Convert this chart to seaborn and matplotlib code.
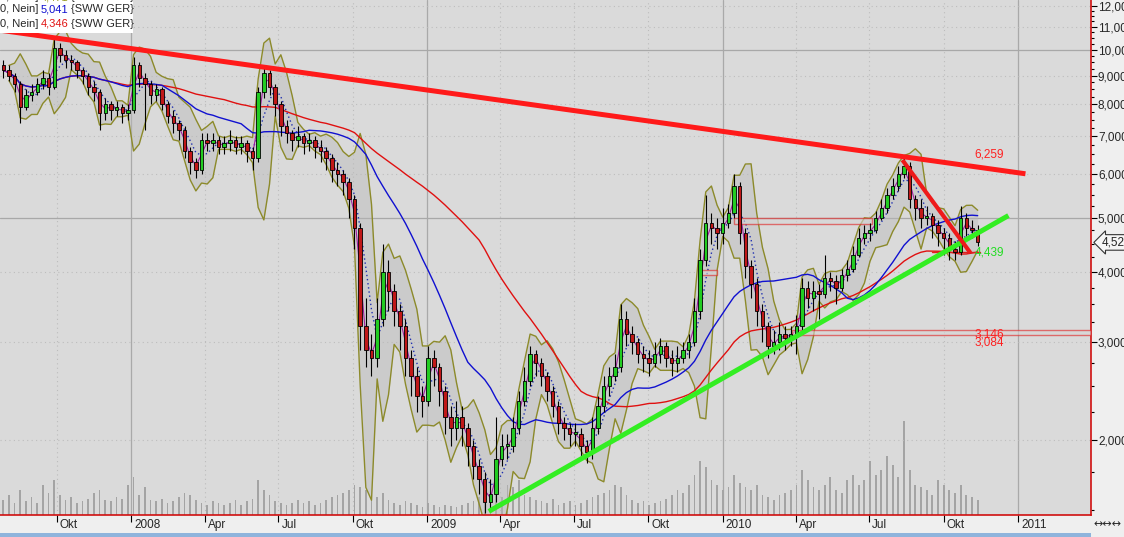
import matplotlib
matplotlib.use("Agg")
import numpy as np
import pandas as pd
import matplotlib.pyplot as plt
import matplotlib.dates as mdates
import matplotlib.transforms as mtrans
from matplotlib.patches import Rectangle
from matplotlib.ticker import FixedLocator, NullFormatter
import seaborn as sns

# weekly prices (SWW GER), first bar week of 2007-07-27
first_open = 9.4
closes = [
    9.2, 9.0, 8.7, 7.9, 8.3, 8.4, 8.7, 8.9, 8.6, 10.1,
    9.8, 9.6, 9.5, 9.2, 9.0, 8.6, 8.4, 7.7, 8.0, 7.8,
    7.9, 7.7, 7.8, 9.4, 8.9, 8.7, 8.3, 8.5, 8.0, 7.6,
    7.4, 7.2, 6.6, 6.3, 6.1, 6.9, 6.8, 6.9, 6.7, 6.8,
    6.9, 6.7, 6.8, 6.6, 6.4, 8.4, 9.1, 8.6, 8.0, 7.3,
    7.1, 6.9, 7.0, 6.8, 6.9, 6.7, 6.6, 6.4, 6.1, 6.0,
    5.8, 5.4, 4.8, 3.2, 2.9, 2.8, 3.3, 4.0, 3.7, 3.4,
    3.2, 2.8, 2.6, 2.4, 2.35, 2.8, 2.7, 2.45, 2.2, 2.1,
    2.2, 2.1, 1.95, 1.8, 1.7, 1.55, 1.6, 1.85, 1.95, 1.95,
    2.1, 2.35, 2.55, 2.85, 2.75, 2.6, 2.45, 2.3, 2.15, 2.1,
    2.05, 2.05, 1.95, 1.9, 2.1, 2.3, 2.5, 2.6, 2.7, 3.3,
    3.1, 3.0, 2.85, 2.8, 2.75, 2.85, 2.95, 2.8, 2.75, 2.8,
    2.9, 3.0, 3.4, 4.2, 4.9, 4.8, 4.7, 4.9, 5.1, 5.7,
    4.7, 4.1, 3.8, 3.4, 3.2, 2.95, 3.0, 3.1, 3.05, 3.1,
    3.2, 3.75, 3.6, 3.7, 3.65, 3.9, 3.85, 3.75, 3.95, 4.05,
    4.3, 4.6, 4.7, 4.75, 5.0, 5.2, 5.5, 5.7, 6.0, 6.2,
    5.4, 5.2, 5.0, 5.05, 4.85, 4.7, 4.6, 4.4, 4.35, 5.0,
    4.8, 4.75, 4.52,
]
highs = [
    9.6, 9.4, 9.1, 8.8, 8.5, 8.7, 8.9, 9.2, 9.1, 10.5,
    10.3, 10.0, 9.8, 9.6, 9.3, 9.1, 8.8, 8.5, 8.2, 8.1,
    8.1, 8.0, 8.0, 9.7, 9.5, 9.1, 8.8, 8.7, 8.6, 8.1,
    7.8, 7.5, 7.3, 6.7, 6.4, 7.1, 7.1, 7.1, 7.0, 7.0,
    7.2, 7.0, 7.0, 6.9, 6.7, 8.6, 9.4, 9.2, 8.7, 8.1,
    7.5, 7.2, 7.3, 7.1, 7.1, 7.0, 6.9, 6.7, 6.5, 6.3,
    6.1, 5.9, 5.5, 4.9, 3.6, 3.1, 3.6, 4.5, 4.2, 3.8,
    3.5, 3.3, 2.9, 2.7, 2.5, 2.95, 2.9, 2.75, 2.5, 2.3,
    2.35, 2.3, 2.15, 2.0, 1.85, 1.75, 1.7, 2.2, 2.05, 2.05,
    2.2, 2.45, 2.7, 2.95, 2.9, 2.8, 2.65, 2.5, 2.35, 2.2,
    2.15, 2.15, 2.1, 2.0, 2.2, 2.4, 2.6, 2.7, 2.85, 3.5,
    3.4, 3.2, 3.05, 2.95, 2.9, 3.0, 3.05, 3.0, 2.9, 2.95,
    3.0, 3.1, 3.6, 4.4, 5.5, 5.1, 5.0, 5.2, 5.3, 6.0,
    5.8, 4.8, 4.2, 3.9, 3.5, 3.25, 3.15, 3.25, 3.2, 3.2,
    3.35, 3.9, 3.85, 3.85, 3.8, 4.3, 4.0, 3.95, 4.05, 4.2,
    4.45, 4.8, 4.85, 4.9, 5.15, 5.4, 5.65, 5.9, 6.2, 6.4,
    6.3, 5.5, 5.4, 5.25, 5.1, 4.95, 4.8, 4.7, 4.55, 5.25,
    5.1, 4.95, 4.85,
]
lows = [
    8.9, 8.8, 8.4, 7.4, 7.8, 8.1, 8.3, 8.5, 8.3, 8.5,
    9.5, 9.3, 9.2, 8.9, 8.7, 8.3, 8.1, 7.2, 7.5, 7.5,
    7.6, 7.4, 7.5, 7.7, 8.6, 7.2, 8.0, 8.1, 7.8, 7.4,
    7.1, 6.9, 6.4, 6.0, 5.9, 6.0, 6.6, 6.6, 6.5, 6.5,
    6.6, 6.5, 6.5, 6.3, 6.1, 6.3, 8.2, 8.3, 7.6, 7.0,
    6.8, 6.6, 6.7, 6.5, 6.6, 6.4, 6.3, 6.1, 5.8, 5.7,
    5.5, 5.0, 4.4, 2.9, 2.7, 2.6, 2.7, 3.2, 3.4, 3.2,
    2.9, 2.6, 2.4, 2.25, 2.2, 2.3, 2.5, 2.3, 2.05, 1.95,
    2.0, 1.95, 1.8, 1.7, 1.6, 1.48, 1.5, 1.55, 1.8, 1.85,
    1.9, 2.05, 2.3, 2.5, 2.6, 2.5, 2.35, 2.2, 2.05, 2.0,
    1.95, 1.95, 1.85, 1.82, 1.85, 2.05, 2.25, 2.4, 2.55, 2.65,
    2.95, 2.85, 2.75, 2.65, 2.6, 2.7, 2.75, 2.7, 2.6, 2.65,
    2.75, 2.8, 2.95, 3.3, 4.1, 4.5, 4.4, 4.5, 4.8, 5.0,
    4.5, 3.9, 3.6, 3.2, 3.0, 2.8, 2.85, 2.9, 2.9, 2.95,
    2.85, 3.15, 3.45, 3.4, 3.3, 3.6, 3.7, 3.5, 3.7, 3.85,
    4.0, 4.25, 4.5, 4.55, 4.7, 4.95, 5.1, 5.4, 5.6, 5.9,
    5.2, 4.95, 4.8, 4.85, 4.6, 4.45, 4.3, 4.2, 4.2, 4.3,
    4.65, 4.6, 4.45,
]
volumes = [
    15, 20, 12, 25, 14, 18, 12, 30, 22, 35,
    20, 15, 18, 12, 14, 16, 22, 25, 15, 14,
    18, 16, 30, 38, 20, 28, 15, 14, 16, 12,
    14, 18, 22, 20, 15, 12, 10, 14, 12, 10,
    12, 15, 10, 14, 16, 35, 25, 20, 14, 12,
    10, 12, 15, 12, 14, 10, 12, 15, 18, 20,
    22, 25, 30, 28, 25, 20, 18, 22, 15, 12,
    10, 14, 12, 10, 8, 12, 10, 8, 10, 9,
    8, 10, 12, 14, 18, 20, 25, 22, 18, 30,
    28, 35, 20, 18, 15, 14, 12, 16, 10, 12,
    14, 10, 12, 15, 18, 20, 22, 25, 30, 28,
    20, 15, 12, 14, 10, 12, 14, 16, 20, 25,
    22, 30, 40, 55, 48, 35, 30, 25, 28, 40,
    32, 28, 25, 30, 20, 18, 15, 20, 22, 25,
    30, 45, 35, 28, 25, 30, 38, 25, 22, 35,
    40, 30, 35, 55, 40, 45, 60, 50, 38, 95,
    45, 30, 28, 25, 20, 35, 30, 25, 22, 30,
    20, 18, 15,
]

# drawn trend lines and zones (date, price)
resistance_line = (("2007-07-23", 10.85), ("2011-01-10", 6.0))
support_line = (("2009-03-18", 1.49), ("2010-12-20", 5.05))
short_down_line = (("2010-08-11", 6.35), ("2010-11-03", 4.33))
zones = [  # start, end, low, high
    ("2010-01-15", "2010-07-05", 4.87, 5.0),
    ("2009-12-05", "2009-12-25", 3.95, 4.03),
    ("2010-03-27", "2011-04-01", 3.084, 3.146),
]
level_4439 = ("2010-09-17", "2010-11-15", 4.35)

qtr_ticks = pd.date_range("2007-10-01", "2011-01-01", freq="QS")
month_de = {1: None, 4: "Apr", 7: "Jul", 10: "Okt"}
qtr_labels = [str(d.year) if d.month == 1 else month_de[d.month] for d in qtr_ticks]

dates = pd.date_range("2007-07-27", periods=len(closes), freq="W-FRI")
df = pd.DataFrame({"date": dates, "close": closes, "high": highs,
                   "low": lows, "volume": volumes})
df["open"] = [first_open] + closes[:-1]
df["ma_fast"] = df["close"].rolling(2, min_periods=1).mean()
df["bb_mid"] = df["close"].rolling(4, min_periods=1).mean()
bb_std = df["close"].rolling(4, min_periods=2).std()
df["bb_up"] = df["bb_mid"] + 2 * bb_std
df["bb_lo"] = (df["bb_mid"] - 2 * bb_std).clip(lower=1.0)
df["ma_blue"] = df["close"].rolling(20, min_periods=1).mean()
df["ma_red"] = df["close"].rolling(40, min_periods=1).mean()

sns.set_theme(style="white")
plt.rcParams["font.family"] = ["Liberation Sans", "DejaVu Sans"]

W, H = 1124, 537
fig = plt.figure(figsize=(W / 100, H / 100), dpi=100, facecolor="#efefef")
rect = [0, 22 / H, 1091 / W, 515 / H]
axv = fig.add_axes(rect, facecolor="#dadada")
ax = fig.add_axes(rect, sharex=axv)
ax.patch.set_alpha(0)

# volume in the background
axv.bar(df["date"], df["volume"], width=2.2, color="#a4a4a4", linewidth=0)
axv.set_ylim(0, 520)
axv.set_yticks([])
axv.tick_params(axis="x", bottom=False, labelbottom=False)
for s in axv.spines.values():
    s.set_visible(False)
for d in qtr_ticks:
    if d.month == 1:
        axv.axvline(d, color="#a9a9a9", lw=0.9, zorder=0)
    else:
        axv.axvline(d, color="#bcbcbc", lw=0.8, ls=(0, (1, 3)), zorder=0)

ax.set_yscale("log")
ax.set_ylim(1.468, 12.29)
ax.set_xlim(pd.Timestamp("2007-07-23"), pd.Timestamp("2011-04-01"))
for lvl in range(2, 13):
    if lvl in (5, 10):
        ax.axhline(lvl, color="#a8a8a8", lw=0.9, zorder=0)
    else:
        ax.axhline(lvl, color="#bdbdbd", lw=0.8, ls=(0, (1, 3)), zorder=0)

# bollinger band + averages
ax.fill_between(df["date"], df["bb_lo"], df["bb_up"], color="#b9b9b9",
                alpha=0.45, linewidth=0, zorder=1)
sns.lineplot(data=df, x="date", y="bb_up", ax=ax, color="#8c8a2a", lw=1.0, zorder=2)
sns.lineplot(data=df, x="date", y="bb_lo", ax=ax, color="#8c8a2a", lw=1.0, zorder=2)
sns.lineplot(data=df, x="date", y="ma_red", ax=ax, color="#e01010", lw=1.0, zorder=3)
sns.lineplot(data=df, x="date", y="ma_blue", ax=ax, color="#1010d0", lw=1.0, zorder=3)
sns.lineplot(data=df, x="date", y="bb_mid", ax=ax, color="#2030b0", lw=1.0,
             ls=(0, (1, 2)), zorder=3)
sns.lineplot(data=df, x="date", y="ma_fast", ax=ax, color="#a020a0", lw=0.8, zorder=3)

# candles
up = df["close"] >= df["open"]
ax.vlines(df["date"], df["low"], df["high"], color="black", lw=0.8, zorder=4)
body_lo = np.minimum(df["open"], df["close"])
body_h = np.abs(df["close"] - df["open"]).clip(lower=0.02)
ax.bar(df["date"], body_h, bottom=body_lo, width=4.2,
       color=np.where(up, "#22cc22", "#c01818"), edgecolor="black",
       linewidth=0.6, zorder=5)

# zones and trend lines
for start, end, lo, hi in zones:
    x0 = mdates.date2num(pd.Timestamp(start))
    x1 = mdates.date2num(pd.Timestamp(end))
    ax.add_patch(Rectangle((x0, lo), x1 - x0, hi - lo, fc="#d6d6d6", alpha=0.6,
                           ec="#e02020", lw=1.0, zorder=3))
ax.plot(pd.to_datetime(list(level_4439[:2])), [level_4439[2]] * 2,
        color="#e02020", lw=1.0, zorder=3)
for line, col, lw in [(resistance_line, "#ff1a1a", 3.6),
                      (support_line, "#33ee22", 3.6),
                      (short_down_line, "#ee1a1a", 3.0)]:
    (d0, p0), (d1, p1) = line
    ax.plot(pd.to_datetime([d0, d1]), [p0, p1], color=col, lw=lw,
            solid_capstyle="butt", zorder=6)

lbl_x = pd.Timestamp("2010-11-08")
ax.text(lbl_x, 6.33, "6,259", color="#ff2020", fontsize=8.5, va="bottom", zorder=7)
ax.text(lbl_x, 4.33, "4,439", color="#22dd22", fontsize=8.5, va="center", zorder=7)
ax.text(lbl_x, 3.17, "3,146", color="#ff2020", fontsize=8.5, va="top", zorder=7)
ax.text(lbl_x, 3.07, "3,084", color="#ff2020", fontsize=8.5, va="top", zorder=7)

# axes styling
for name, s in ax.spines.items():
    s.set_visible(name in ("right", "bottom"))
    s.set_color("#d01010")
    s.set_linewidth(1.2)
ax.yaxis.tick_right()
ax.yaxis.set_major_locator(FixedLocator(list(range(2, 13))))
ax.yaxis.set_major_formatter(plt.FuncFormatter(lambda v, p: f"{v:.3f}".replace(".", ",")))
minor = [v / 4 for v in range(6, 49) if v % 4]
ax.yaxis.set_minor_locator(FixedLocator(minor))
ax.yaxis.set_minor_formatter(NullFormatter())
ax.tick_params(axis="y", which="major", length=4, width=0.8, color="black",
               labelsize=8.5, pad=1, right=True)
ax.tick_params(axis="y", which="minor", length=2, width=0.8, color="black", right=True)
ax.set_xticks(qtr_ticks)
ax.set_xticklabels(qtr_labels, ha="left")
ax.tick_params(axis="x", length=5, width=0.8, color="black", labelsize=8.5,
               pad=-2, bottom=True)
shift = mtrans.ScaledTranslation(3 / 100, 0, fig.dpi_scale_trans)
for t in ax.get_xticklabels():
    t.set_transform(t.get_transform() + shift)
ax.set_xlabel("")
ax.set_ylabel("")

# price tag on the axis
ax.annotate("4,52", xy=(1.0, 4.52), xycoords=("axes fraction", "data"),
            xytext=(8, 0), textcoords="offset points", ha="left", va="center",
            fontsize=8.5, annotation_clip=False,
            bbox=dict(boxstyle="larrow,pad=0.15", fc="#f6f6f6", ec="#333333", lw=0.8))

# legend box top-left
fig.add_artist(Rectangle((0, 1 - 33 / H), 133 / W, 33 / H, transform=fig.transFigure,
                         fc="white", ec="none", zorder=10))
rows = [(-3, "4,471", "#9a9a20"), (9, "5,041", "#1010d0"), (24, "4,346", "#e01010")]
for y, val, col in rows:
    yf = 1 - y / H
    fig.text(0, yf, "0, Nein]", fontsize=8, va="center", zorder=11)
    fig.text(41 / W, yf, val, fontsize=8, va="center", color=col, zorder=11)
    fig.text(71 / W, yf, "{SWW GER}", fontsize=8, va="center", zorder=11)

fig.text(1093 / W, 1 - 524 / H, "↔↔↔", fontsize=8, va="center",
         family=["DejaVu Sans"])
fig.add_artist(Rectangle((0, 0), 1091 / W, 4 / H, transform=fig.transFigure,
                         fc="#8fb4dc", ec="none"))

fig.savefig("out.png", dpi=100, facecolor=fig.get_facecolor())
